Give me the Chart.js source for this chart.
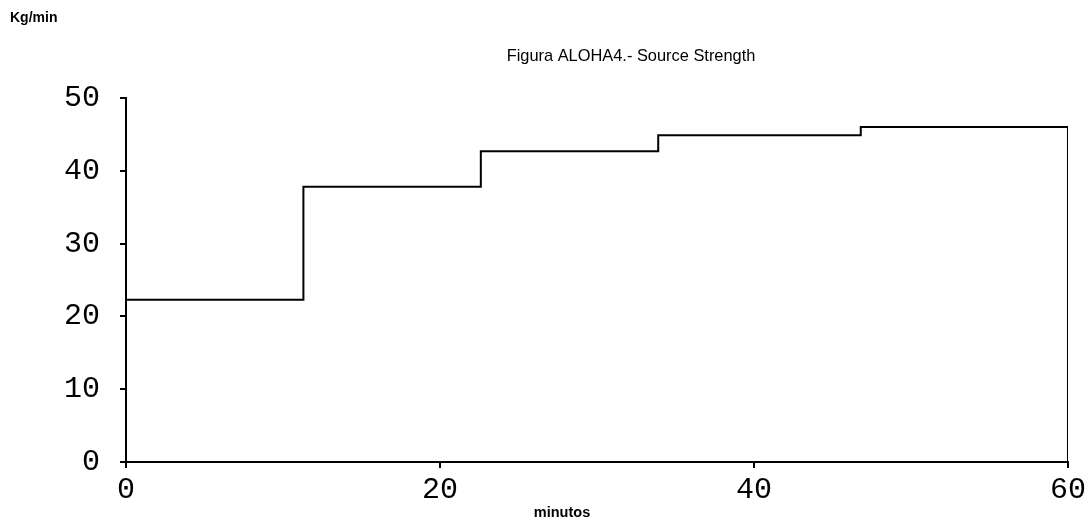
<!DOCTYPE html>
<html>
<head>
<meta charset="utf-8">
<script src="https://cdn.jsdelivr.net/npm/chart.js@4/dist/chart.umd.min.js"></script>
<style>
  html,body{margin:0;padding:0;background:#fff;}
  #wrap{width:1090px;height:523px;position:relative;}
</style>
</head>
<body>
<div id="wrap"><canvas id="chart" width="1090" height="523"></canvas></div>
<script>
// step points: time (min) where a new level starts, and the level (kg/min)
const minutos=[0,11.3,22.6,33.9,46.8,60,60];
const kgmin=[22.3,37.8,42.7,44.9,46.0,46.0,0];
const xTicks=[0,20,40,60];
const yTicks=[0,10,20,30,40,50];

const points=minutos.map((m,i)=>({x:m,y:kgmin[i]}));

const labelsPlugin={
  id:"labels",
  afterDraw(chart){
    const ctx=chart.ctx;
    ctx.save();
    ctx.fillStyle="#000";
    ctx.textBaseline="middle";
    ctx.font="bold 14px 'Liberation Sans', Arial, sans-serif";
    ctx.textAlign="left";
    ctx.fillText("Kg/min",10,18);
    ctx.font="16.4px 'Liberation Sans', Arial, sans-serif";
    ctx.textAlign="center";
    ctx.fillText("Figura ALOHA4.- Source Strength",631,56);
    ctx.font="bold 14.5px 'Liberation Sans', Arial, sans-serif";
    ctx.fillText("minutos",562,513);
    ctx.restore();
  }
};

new Chart(document.getElementById("chart"),{
  type:"line",
  data:{datasets:[{
    data:points,
    stepped:"before",
    borderColor:"#000",
    borderWidth:2,
    pointRadius:0,
    fill:false
  }]},
  options:{
    responsive:false,
    animation:false,
    events:[],
    layout:{padding:{left:0,right:22,top:98,bottom:0}},
    plugins:{legend:{display:false},tooltip:{enabled:false},title:{display:false}},
    scales:{
      x:{
        type:"linear",min:0,max:60,
        afterBuildTicks:s=>{s.ticks=xTicks.map(v=>({value:v}));},
        afterFit:s=>{s.height=61;},
        grid:{drawOnChartArea:false,drawTicks:true,tickLength:6,color:"#000",lineWidth:2},
        border:{display:true,color:"#000",width:2},
        ticks:{color:"#000",padding:4,maxRotation:0,font:{family:"'Liberation Mono', 'Courier New', monospace",size:30}}
      },
      y:{
        type:"linear",min:0,max:50,
        afterBuildTicks:s=>{s.ticks=yTicks.map(v=>({value:v}));},
        afterFit:s=>{s.width=126;},
        grid:{drawOnChartArea:false,drawTicks:true,tickLength:6,color:"#000",lineWidth:2},
        border:{display:true,color:"#000",width:2},
        ticks:{color:"#000",padding:20,font:{family:"'Liberation Mono', 'Courier New', monospace",size:30}}
      }
    }
  },
  plugins:[labelsPlugin]
});
</script>
</body>
</html>
